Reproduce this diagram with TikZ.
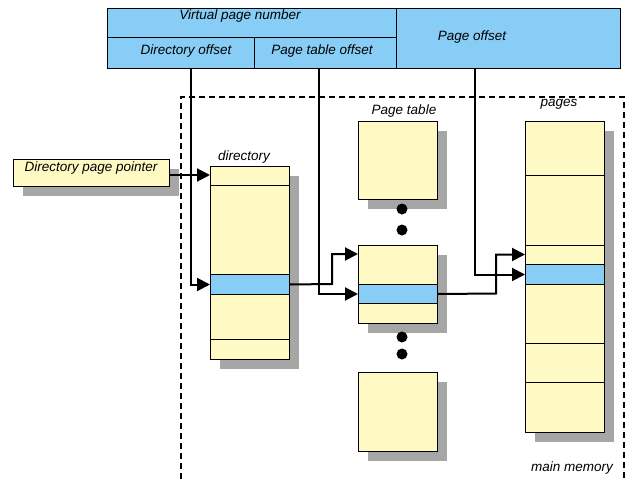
\documentclass[tikz,border=0pt]{standalone}
\usepackage{fontspec}
\setmainfont{Liberation Sans}
\usetikzlibrary{arrows.meta,shadows}
\definecolor{cellyellow}{HTML}{FFFAC4}
\definecolor{cellblue}{HTML}{87CDF5}
\definecolor{shadowgray}{HTML}{A6A6A6}
\tikzset{
  txt/.style={font=\fontsize{13.5}{16}\selectfont\itshape, inner sep=0pt},
  cell/.style={draw=black, line width=1pt, inner sep=0pt, anchor=north west},
  memblock/.style={cell, fill=cellyellow,
    general shadow={fill=shadowgray, shadow xshift=9pt, shadow yshift=-9pt}},
  selrow/.style={cell, fill=cellblue},
  hdr/.style={cell, fill=cellblue},
  link/.style={line width=2pt, -{Triangle[length=13pt,width=13pt]}},
  region/.style={line width=2pt, dash pattern=on 6pt off 4pt},
  dot/.style={circle, fill=black, inner sep=0pt, minimum size=11pt}
}
\begin{document}
\begin{tikzpicture}[x=1pt,y=-1pt]
\useasboundingbox (0,0) rectangle (627,479);

% main memory region (open at the bottom)
\draw[region] (181,479) -- (181,97) -- (624,97) -- (624,479);
\node[txt, anchor=east] (mmlabel) at (613,468) {main memory};

% virtual address fields
\node[hdr, minimum width=289pt, minimum height=29pt] (vpn) at (107,8) {};
\node[hdr, minimum width=147pt, minimum height=31pt] (dirofs) at (107,37) {};
\node[hdr, minimum width=142pt, minimum height=31pt] (ptofs) at (254,37) {};
\node[hdr, minimum width=224pt, minimum height=60pt] (pgofs) at (396,8) {};
\node[txt] (vpntxt) at (240,16) {Virtual page number};
\node[txt] at (186,51) {Directory offset};
\node[txt] at (322,51) {Page table offset};
\node[txt] at (472,37) {Page offset};

% directory page pointer register
\node[memblock, minimum width=156pt, minimum height=27pt] (ptr) at (13,159) {};
\node[txt] at (91,168) {Directory page pointer};

% directory
\node[txt] at (244,157) {directory};
\node[memblock, minimum width=79pt, minimum height=193pt] (dir) at (210,166) {};
\draw[line width=1pt] (210,185) -- (289,185);
\draw[line width=1pt] (210,339) -- (289,339);
\node[selrow, minimum width=79pt, minimum height=20pt] (dirsel) at (210,274) {};

% page tables
\node[txt] at (404,111) {Page table};
\node[memblock, minimum width=79pt, minimum height=78pt] (pt1) at (358,121) {};
\node[memblock, minimum width=79pt, minimum height=78pt] (pt2) at (358,245) {};
\node[selrow, minimum width=79pt, minimum height=19pt] (ptsel) at (358,284) {};
\node[memblock, minimum width=79pt, minimum height=79pt] (pt3) at (358,372) {};
\node[dot] at (402,209) {};
\node[dot] at (402,230) {};
\node[dot] at (402,337) {};
\node[dot] at (402,354) {};

% pages
\node[txt] at (559,104) {pages};
\node[memblock, minimum width=79pt, minimum height=311pt] (pages) at (525,121) {};
\foreach \yy in {175,245,343,382}
  \draw[line width=1pt] (525,\yy) -- (604,\yy);
\node[selrow, minimum width=79pt, minimum height=20pt] (pgsel) at (525,264) {};

% translation paths
\coordinate (dirtop) at (210,175);
\draw[link] (ptr.east |- dirtop) -- (dirtop);
\coordinate (dsrc) at (191,68);
\draw[link] (dsrc) |- (dirsel.west);
\coordinate (ptentry) at (358,254);
\draw[link] (dirsel.east) -- (332,284) |- (ptentry);
\coordinate (psrc) at (319,68);
\draw[link] (psrc) |- (ptsel.west);
\coordinate (pgentry) at (525,254.5);
\draw[link] (ptsel.east) -- (496,293.5) |- (pgentry);
\coordinate (osrc) at (475,68);
\draw[link] (osrc) |- (pgsel.west);
\end{tikzpicture}
\end{document}
